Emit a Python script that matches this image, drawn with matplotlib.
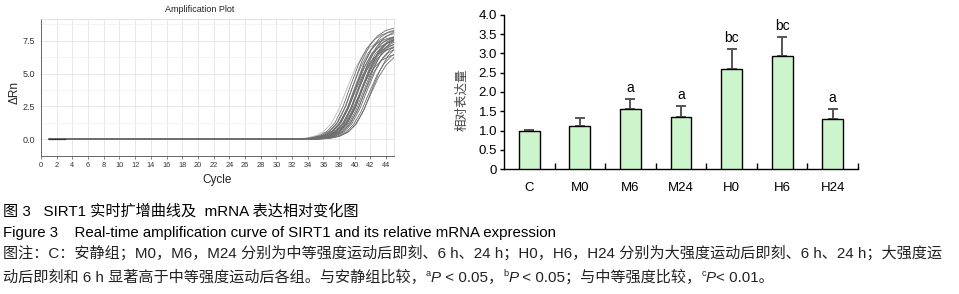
import matplotlib
matplotlib.use("Agg")
import matplotlib.pyplot as plt
import numpy as np

plt.rcParams['font.family'] = ['Liberation Sans', 'Noto Sans CJK SC']

W, H = 959, 294

# amplification plot: midpoint cycle and plateau dRn of each well
well_mid = [39.0, 39.5, 39.7, 39.9, 40.0, 40.1, 40.2, 40.3, 40.4, 40.5, 40.6, 40.7, 40.8,
            40.9, 41.0, 41.1, 41.2, 41.3, 41.5, 41.6, 41.8, 42.0, 42.2, 40.5, 41.0, 40.0]
well_plateau = [7.7, 8.3, 7.9, 8.6, 7.6, 8.2, 7.9, 8.5, 7.4, 8.0, 7.8, 8.4, 7.3,
                7.9, 7.7, 8.1, 7.6, 7.2, 8.0, 7.5, 7.0, 6.8, 7.6, 6.6, 7.9, 7.1]
# shape of one amplification curve: cycles from midpoint -> fraction of plateau
profile_offset = [-7, -6, -5, -4, -3, -2, -1, 0, 1, 2, 3, 4, 5, 6, 7]
profile_frac = [0.0, 0.006, 0.015, 0.035, 0.075, 0.155, 0.30, 0.50, 0.69, 0.83, 0.915, 0.96, 0.982, 0.993, 1.0]
first_cycle = 1

# relative mRNA expression
groups = ['C', 'M0', 'M6', 'M24', 'H0', 'H6', 'H24']
expr_mean = [1.00, 1.12, 1.56, 1.35, 2.59, 2.92, 1.30]
expr_err = [0.01, 0.22, 0.27, 0.29, 0.53, 0.51, 0.26]
sig_marks = ['', '', 'a', 'a', 'bc', 'bc', 'a']

fig = plt.figure(figsize=(W / 100, H / 100), dpi=100)

# ---- left: amplification plot
ax1 = fig.add_axes([41 / W, 138 / H, 353 / W, 137 / H])
for i, (mid, top) in enumerate(zip(well_mid, well_plateau)):
    xs = [first_cycle] + [mid + o for o in profile_offset]
    ys = [0.0] + [top * f for f in profile_frac]
    col = '#b8b8b8' if i == 0 else '#6e6e6e'
    ax1.plot(xs, ys, color=col, lw=0.6, zorder=3 if i else 2)
ax1.plot([first_cycle, 3], [0, 0], color='#333333', lw=0.9, zorder=4)
ax1.set_xlim(0, 45)
ax1.set_ylim(-1.27, 9.15)
ax1.set_xticks(np.arange(0, 45, 2))
ax1.set_yticks([0, 2.5, 5.0, 7.5])
ax1.set_yticklabels(['0.0', '2.5', '5.0', '7.5'])
ax1.set_yticks([1.25, 3.75, 6.25, 8.75], minor=True)
ax1.grid(True, which='major', color='#e4e4e4', lw=0.6)
ax1.grid(True, which='minor', axis='y', color='#f0f0f0', lw=0.5)
ax1.set_axisbelow(True)
ax1.tick_params(axis='x', length=2, width=0.5, color='#555555', labelsize=5.3, labelcolor='#333333', pad=2)
ax1.tick_params(axis='y', which='both', length=0, labelsize=6.5, labelcolor='#333333', pad=4)
for s in ['left', 'bottom']:
    ax1.spines[s].set_color('#666666')
    ax1.spines[s].set_linewidth(0.7)
for s in ['top', 'right']:
    ax1.spines[s].set_color('#dddddd')
    ax1.spines[s].set_linewidth(0.6)
fig.text(200 / W, 1 - 10 / H, 'Amplification Plot', ha='center', va='center', fontsize=6.5, color='#222222')
fig.text(217 / W, 1 - 180 / H, 'Cycle', ha='center', va='center', fontsize=8.5, color='#222222')
fig.text(15 / W, 1 - 92 / H, 'ΔRn', ha='center', va='center', rotation=90, fontsize=8.5, color='#222222')

# ---- right: bar chart
ax2 = fig.add_axes([504 / W, 124.7 / H, 354 / W, 154.6 / H])
x = np.arange(len(groups))
ax2.bar(x, expr_mean, width=0.41, color='#ccf5cc', edgecolor='black', lw=1.0, zorder=3)
ax2.errorbar(x, expr_mean, yerr=[np.zeros(len(x)), expr_err], fmt='none', ecolor='#555555',
             elinewidth=1.4, capsize=3.8, capthick=1.4, zorder=2)
for xi, m, e, s in zip(x, expr_mean, expr_err, sig_marks):
    if s:
        ax2.text(xi, m + e + 0.1, s, ha='center', va='bottom', fontsize=10)
ax2.set_xlim(-0.5, 6.5)
ax2.set_ylim(0, 4.0)
ax2.set_yticks(np.arange(0, 4.01, 0.5))
ax2.set_yticklabels(['0'] + ['%.1f' % v for v in np.arange(0.5, 4.01, 0.5)])
ax2.set_xticks(x)
ax2.set_xticklabels(groups)
ax2.set_xticks(np.arange(0.5, 6.6, 1), minor=True)
ax2.tick_params(axis='x', which='major', length=0, pad=9, labelsize=9.5)
ax2.tick_params(axis='x', which='minor', direction='in', length=4, width=1.0)
ax2.tick_params(axis='y', direction='out', length=3, width=1.0, labelsize=9.5, pad=2)
for s in ['top', 'right']:
    ax2.spines[s].set_visible(False)
for s in ['left', 'bottom']:
    ax2.spines[s].set_linewidth(1.0)
fig.text(461.7 / W, 1 - 100 / H, '相对表达量', rotation=90, ha='center', va='center',
         family=['Noto Sans CJK SC'], fontsize=9, color='#444444')

# ---- caption lines
renderer = fig.canvas.get_renderer()


def rich_line(x_px, y_px, parts, size, color):
    for txt, style in parts:
        kw = dict(fontsize=size, color=color)
        rise = 0
        if style == 'sup':
            kw['fontsize'] = size * 0.6
            rise = size * 0.55
        elif style == 'it':
            kw['style'] = 'italic'
        t = fig.text(x_px / W, 1 - (y_px - rise) / H, txt, ha='left', va='baseline', **kw)
        x_px += t.get_window_extent(renderer).width


rich_line(3, 215.5, [('图 3   SIRT1 实时扩增曲线及  mRNA 表达相对变化图', '')], 10.9, 'black')
rich_line(3, 236.7, [('Figure 3    Real-time amplification curve of SIRT1 and its relative mRNA expression', '')],
          10.8, 'black')
rich_line(3, 258, [('图注：C：安静组；M0，M6，M24 分别为中等强度运动后即刻、6 h、24 h；H0，H6，H24 '
                    '分别为大强度运动后即刻、6 h、24 h；大强度运', '')], 10.9, '#222222')
rich_line(3, 281.7, [('动后即刻和 6 h 显著高于中等强度运动后各组。与安静组比较，', ''), ('a', 'sup'), ('P', 'it'),
                     (' < 0.05，', ''), ('b', 'sup'), ('P', 'it'), (' < 0.05；与中等强度比较，', ''),
                     ('c', 'sup'), ('P', 'it'), ('< 0.01。', '')], 10.9, '#222222')

fig.savefig('out.png', dpi=100)
